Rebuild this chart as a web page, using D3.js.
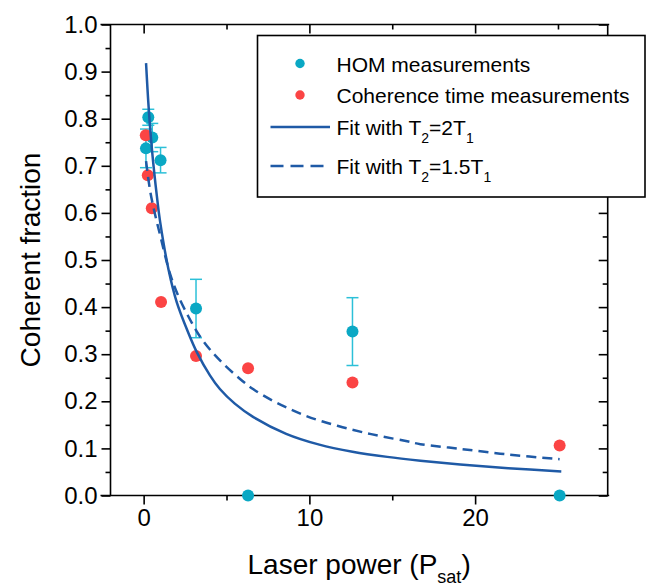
<!DOCTYPE html>
<html>
<head>
<meta charset="utf-8">
<script src="https://cdn.jsdelivr.net/npm/d3@7"></script>
<style>
body { margin: 0; background: #fff; }
svg { font-family: 'Liberation Sans', Arial, sans-serif; }
</style>
</head>
<body>
<svg id="chart" width="646" height="586"></svg>
<script>
// HOM measurements (x in P_sat, coherent fraction, error)
const homX = [0.14, 0.28, 0.52, 1.02, 3.16, 6.30, 12.6, 25.1];
const homY = [0.737, 0.803, 0.760, 0.712, 0.397, 0.0, 0.348, 0.0];
const homErr = [0.041, 0.017, 0.030, 0.027, 0.062, 0, 0.072, 0];

// coherence time measurements
const cohX = [0.13, 0.25, 0.49, 1.05, 3.16, 6.30, 12.6, 25.1];
const cohY = [0.765, 0.680, 0.610, 0.411, 0.296, 0.270, 0.240, 0.106];

// fit T2 = 2T1
const fit2X = [0.145, 0.3, 0.5, 0.8, 1.0, 1.5, 2.0, 2.7, 3.2, 4.0, 4.6, 5.5, 6.6, 8.6, 10.6, 12.6, 14.7, 16.7, 19.1, 22.0, 25.2];
const fit2Y = [0.918, 0.825, 0.735, 0.635, 0.58, 0.48, 0.41, 0.345, 0.305, 0.255, 0.226, 0.195, 0.167, 0.131, 0.108, 0.093, 0.082, 0.074, 0.066, 0.058, 0.051];

// fit T2 = 1.5T1
const fit15X = [0.145, 0.4, 0.7, 1.0, 1.6, 2.1, 2.7, 3.3, 4.0, 4.8, 5.8, 6.6, 7.8, 8.8, 9.8, 10.8, 12.0, 13.25, 14.45, 15.9, 16.7, 19.1, 22.0, 25.1];
const fit15Y = [0.71, 0.645, 0.595, 0.552, 0.47, 0.423, 0.38, 0.343, 0.31, 0.28, 0.248, 0.226, 0.201, 0.184, 0.169, 0.157, 0.145, 0.134, 0.125, 0.115, 0.109, 0.099, 0.087, 0.077];

const xMajor = [0, 10, 20];
const xMinor = [5, 15, 25];
const yMajor = [0, 0.1, 0.2, 0.3, 0.4, 0.5, 0.6, 0.7, 0.8, 0.9, 1.0];
const yMinor = [0.05, 0.15, 0.25, 0.35, 0.45, 0.55, 0.65, 0.75, 0.85, 0.95];

const tealColor = '#0aa8c4';
const errColor = '#2cc0d8';
const redColor = '#fb4444';
const lineColor = '#1f5aa6';

const svg = d3.select('#chart');
const plotL = 110.5, plotR = 607.7, plotT = 24.5, plotB = 495.5;

const x = d3.scaleLinear().domain([-2, 28]).range([plotL, plotR]);
const y = d3.scaleLinear().domain([0, 1]).range([plotB, plotT]);

// axes: major + minor ticks on each side
function addAxis(axisFn, scale, ticks, size, transform, labels) {
    let ax = axisFn(scale)
        .tickValues(ticks)
        .tickSizeInner(size)
        .tickSizeOuter(0)
        .tickPadding(4);
    if (labels) ax.tickFormat(labels);
    else ax.tickFormat('');
    let g = svg.append('g').attr('transform', transform).call(ax);
    g.select('.domain').remove();
    g.selectAll('.tick line').attr('stroke', '#000').attr('stroke-width', 1.6);
    g.selectAll('.tick text').attr('font-size', 24).attr('fill', '#000')
        .attr('font-family', "'Liberation Sans', Arial, sans-serif");
    return g;
}

addAxis(d3.axisBottom, x, xMajor, 9, `translate(0,${plotB})`, d3.format('d'));
addAxis(d3.axisBottom, x, xMinor, 5, `translate(0,${plotB})`);
addAxis(d3.axisTop, x, xMajor, -9, `translate(0,${plotT})`);
addAxis(d3.axisTop, x, xMinor, -5, `translate(0,${plotT})`);
addAxis(d3.axisLeft, y, yMajor, 9, `translate(${plotL},0)`, d3.format('.1f'));
addAxis(d3.axisLeft, y, yMinor, 5, `translate(${plotL},0)`);
addAxis(d3.axisRight, y, yMajor, -9, `translate(${plotR},0)`);
addAxis(d3.axisRight, y, yMinor, -5, `translate(${plotR},0)`);

// frame
const frame = svg.append('g').attr('stroke', '#000').attr('stroke-width', 1.6);
frame.append('line').attr('x1', plotL - 10).attr('x2', plotR + 1.5).attr('y1', plotB).attr('y2', plotB);
frame.append('line').attr('x1', plotL - 10).attr('x2', plotR + 1.5).attr('y1', plotT).attr('y2', plotT);
frame.append('line').attr('x1', plotL).attr('x2', plotL).attr('y1', plotT).attr('y2', plotB);
frame.append('line').attr('x1', plotR).attr('x2', plotR).attr('y1', plotT).attr('y2', plotB);

// error bars
const homData = homX.map((v, i) => ({x: v, y: homY[i], e: homErr[i]}));
const cohData = cohX.map((v, i) => ({x: v, y: cohY[i]}));

const errG = svg.append('g').attr('stroke', errColor).attr('stroke-width', 1.5);
homData.filter(d => d.e > 0).forEach(d => {
    errG.append('line').attr('x1', x(d.x)).attr('x2', x(d.x)).attr('y1', y(d.y - d.e)).attr('y2', y(d.y + d.e));
    [d.y - d.e, d.y + d.e].forEach(v => {
        errG.append('line').attr('x1', x(d.x) - 6).attr('x2', x(d.x) + 6).attr('y1', y(v)).attr('y2', y(v));
    });
});

svg.append('g').selectAll('circle')
    .data(homData)
    .join('circle')
    .attr('cx', d => x(d.x))
    .attr('cy', d => y(d.y))
    .attr('r', 6)
    .attr('fill', tealColor);

svg.append('g').selectAll('circle')
    .data(cohData)
    .join('circle')
    .attr('cx', d => x(d.x))
    .attr('cy', d => y(d.y))
    .attr('r', 6)
    .attr('fill', redColor);

// fit curves
const line = d3.line().x(d => x(d[0])).y(d => y(d[1])).curve(d3.curveCatmullRom.alpha(0.5));
svg.append('path')
    .datum(fit2X.map((v, i) => [v, fit2Y[i]]))
    .attr('d', line)
    .attr('fill', 'none')
    .attr('stroke', lineColor)
    .attr('stroke-width', 2.5);
svg.append('path')
    .datum(fit15X.map((v, i) => [v, fit15Y[i]]))
    .attr('d', line)
    .attr('fill', 'none')
    .attr('stroke', lineColor)
    .attr('stroke-width', 2.5)
    .attr('stroke-dasharray', '10,6');

// axis titles
svg.append('text')
    .attr('transform', `translate(40,${(plotT + plotB) / 2}) rotate(-90)`)
    .attr('text-anchor', 'middle')
    .attr('font-size', 28)
    .text('Coherent fraction');

let xt = svg.append('text')
    .attr('x', (plotL + plotR) / 2)
    .attr('y', 574)
    .attr('text-anchor', 'middle')
    .attr('font-size', 28);
xt.append('tspan').text('Laser power (P');
xt.append('tspan').attr('font-size', 18).attr('dy', 9).text('sat');
xt.append('tspan').attr('dy', -9).text(')');

// legend
const lg = svg.append('g');
lg.append('rect')
    .attr('x', 257.5).attr('y', 35.5)
    .attr('width', 387.5).attr('height', 161.5)
    .attr('fill', '#fff').attr('stroke', '#000').attr('stroke-width', 1.6);

const symX = 300, textX = 336.5;
lg.append('circle').attr('cx', symX).attr('cy', 63.5).attr('r', 4.7).attr('fill', tealColor);
lg.append('circle').attr('cx', symX).attr('cy', 95).attr('r', 4.7).attr('fill', redColor);
lg.append('line').attr('x1', 270.5).attr('x2', 330).attr('y1', 127).attr('y2', 127)
    .attr('stroke', lineColor).attr('stroke-width', 2.5);
lg.append('line').attr('x1', 270.5).attr('x2', 330).attr('y1', 166).attr('y2', 166)
    .attr('stroke', lineColor).attr('stroke-width', 2.5).attr('stroke-dasharray', '13,7');

lg.append('text').attr('x', textX).attr('y', 71.5).attr('font-size', 21).text('HOM measurements');
lg.append('text').attr('x', textX).attr('y', 102.7).attr('font-size', 21).text('Coherence time measurements');

function fitLabel(yPos, ratio) {
    let t = lg.append('text').attr('x', textX).attr('y', yPos).attr('font-size', 21);
    t.append('tspan').text('Fit with T');
    t.append('tspan').attr('font-size', 14).attr('dy', 8).text('2');
    t.append('tspan').attr('dy', -8).text('=' + ratio + 'T');
    t.append('tspan').attr('font-size', 14).attr('dy', 8).text('1');
}
fitLabel(135, '2');
fitLabel(174, '1.5');
</script>
</body>
</html>
